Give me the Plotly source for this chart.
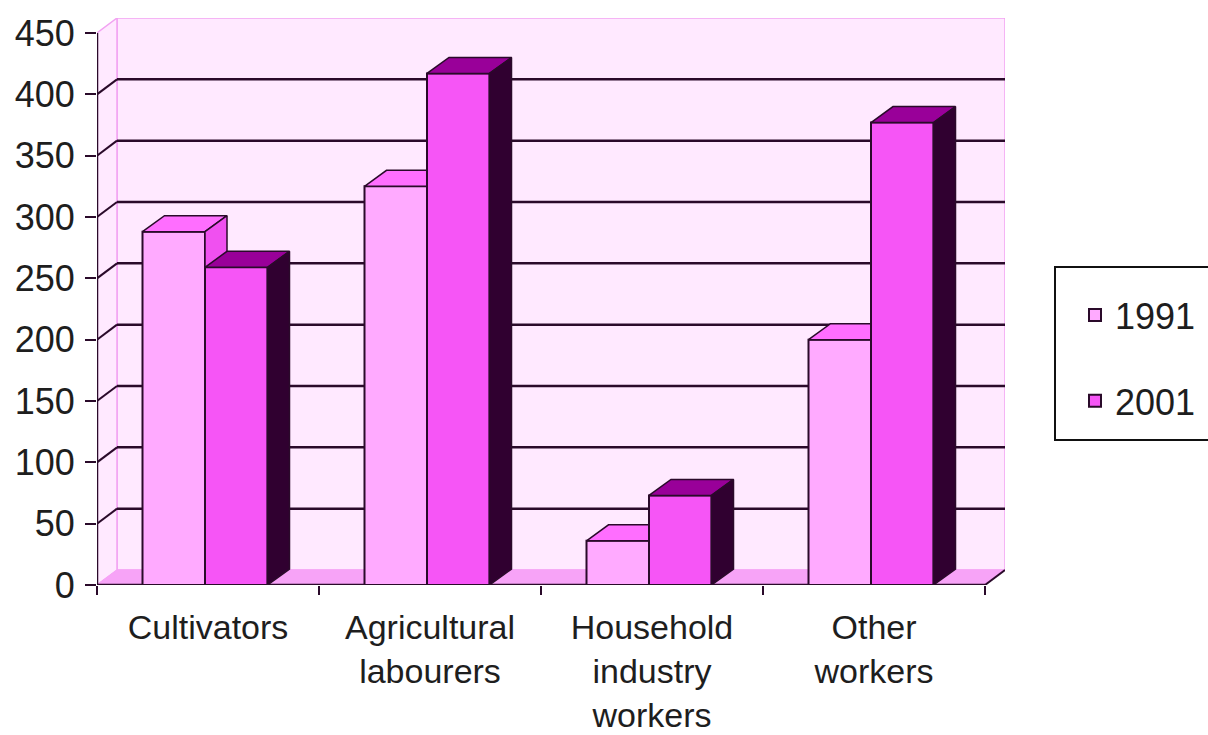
import plotly.graph_objects as go

# ---------------- data ----------------
categories = ["Cultivators", "Agricultural<br>labourers", "Household<br>industry<br>workers", "Other<br>workers"]
series_names = ["1991", "2001"]
values_1991 = [288, 325, 36, 200]
values_2001 = [259, 417, 73, 377]
y_tick_values = [0, 50, 100, 150, 200, 250, 300, 350, 400, 450]

# ---------------- geometry / style ----------------
W, H = 1208, 735
ML, MR, MT, MB = 97, 203, 18, 150
n_cat = len(categories)
X0, X1 = -0.5, n_cat - 0.5
px_per_x = 222.0
px_per_y = 552.0 / 450.0
x_range = [X0, X0 + (W - ML - MR) / px_per_x]
y_range = [0, (H - MT - MB) / px_per_y]

wall_dx, wall_dy = 20 / px_per_x, 15 / px_per_y
bar_dx, bar_dy = 22 / px_per_x, 16 / px_per_y
bar_w = 62.5 / px_per_x
offsets = [-65.5 / px_per_x, -3.0 / px_per_x]

edge = "#2A0A2A"
wall_fill = "#FFE9FF"
wall_edge = "#F2A2F2"
floor_fill = "#F7A3F7"
front_cols = ["#FFAAFF", "#F655F6"]
top_cols = ["#FF6EFF", "#990099"]
side_cols = ["#F050F0", "#300030"]
text_col = "#1E1E1E"
FONT = "Liberation Sans, Arial, sans-serif"
FS = 36
FS_X = 34

fig = go.Figure()

series = [values_1991, values_2001]
yaxes = ["y", "y2"]
for k, vals in enumerate(series):
    ya = yaxes[k]
    fig.add_trace(go.Bar(
        x=list(range(n_cat)), y=vals, width=bar_w, offset=offsets[k],
        name=series_names[k], legendgroup=series_names[k],
        marker=dict(color=front_cols[k], line=dict(color=edge, width=2)),
        xaxis="x", yaxis=ya, hoverinfo="x+y+name",
    ))
    for i, v in enumerate(vals):
        xl = i + offsets[k]
        xr = xl + bar_w
        # top face
        fig.add_trace(go.Scatter(
            x=[xl, xr, xr + bar_dx, xl + bar_dx, xl],
            y=[v, v, v + bar_dy, v + bar_dy, v],
            mode="lines", fill="toself", fillcolor=top_cols[k],
            line=dict(color=edge, width=1.5), showlegend=False,
            hoverinfo="skip", xaxis="x", yaxis=ya))
        # side face
        fig.add_trace(go.Scatter(
            x=[xr, xr + bar_dx, xr + bar_dx, xr, xr],
            y=[0, bar_dy, v + bar_dy, v, 0],
            mode="lines", fill="toself", fillcolor=side_cols[k],
            line=dict(color=edge, width=1.5), showlegend=False,
            hoverinfo="skip", xaxis="x", yaxis=ya))

# ---------------- walls, floor, grid (shapes below traces) ----------------
shapes = []
bx0, bx1 = X0 + wall_dx, X1 + wall_dx
top_v = y_tick_values[-1]
shapes.append(dict(type="rect", xref="x", yref="y", x0=bx0, x1=bx1,
                   y0=wall_dy, y1=top_v + wall_dy, fillcolor=wall_fill,
                   line=dict(color=wall_edge, width=1.5), layer="below"))
shapes.append(dict(type="path", xref="x", yref="y",
                   path=f"M{X0},0 L{X0},{top_v} L{bx0},{top_v + wall_dy} L{bx0},{wall_dy} Z",
                   fillcolor=wall_fill, line=dict(color=wall_edge, width=1.5), layer="below"))
shapes.append(dict(type="path", xref="x", yref="y",
                   path=f"M{X0},0 L{X1},0 L{bx1},{wall_dy} L{bx0},{wall_dy} Z",
                   fillcolor=floor_fill, line=dict(color=floor_fill, width=1), layer="below"))
for v in y_tick_values[1:-1]:
    shapes.append(dict(type="line", xref="x", yref="y", x0=bx0, x1=bx1,
                       y0=v + wall_dy, y1=v + wall_dy,
                       line=dict(color=edge, width=2.5), layer="below"))
    shapes.append(dict(type="line", xref="x", yref="y", x0=X0, x1=bx0,
                       y0=v, y1=v + wall_dy,
                       line=dict(color=edge, width=2), layer="below"))
# front axes
shapes.append(dict(type="line", xref="x", yref="y", x0=X0, x1=X0, y0=0, y1=top_v,
                   line=dict(color=edge, width=2.5), layer="below"))
shapes.append(dict(type="line", xref="x", yref="y", x0=X0, x1=X1, y0=0, y1=0,
                   line=dict(color=edge, width=2.5), layer="below"))
shapes.append(dict(type="line", xref="x", yref="y", x0=X1, x1=bx1, y0=0, y1=wall_dy,
                   line=dict(color=edge, width=2), layer="below"))

# legend box
pw, ph = W - ML - MR, H - MT - MB
shapes.append(dict(type="rect", xref="paper", yref="paper",
                   x0=(1055 - ML) / pw, x1=(1216 - ML) / pw,
                   y0=(H - MB - 440) / ph, y1=(H - MB - 267) / ph,
                   fillcolor="white", line=dict(color="#111111", width=2), layer="below"))

fig.update_layout(
    width=W, height=H,
    margin=dict(l=ML, r=MR, t=MT, b=MB, pad=0, autoexpand=False),
    paper_bgcolor="white", plot_bgcolor="white",
    barmode="overlay",
    font=dict(family=FONT, size=FS, color=text_col),
    shapes=shapes,
    showlegend=True,
    legend=dict(x=(1075 - ML) / pw, xanchor="left",
                y=(H - MB - 358) / ph, yanchor="middle",
                bgcolor="rgba(0,0,0,0)", borderwidth=0,
                tracegroupgap=36, traceorder="grouped",
                font=dict(family=FONT, size=FS, color=text_col)),
    xaxis=dict(range=x_range, tickmode="array", tickvals=list(range(n_cat)),
               ticktext=categories, ticks="", showgrid=False, zeroline=False,
               showline=False, automargin=False,
               tickfont=dict(family=FONT, size=FS_X, color=text_col),
               ticklabelstandoff=19,
               minor=dict(ticks="outside", tickmode="array",
                          tickvals=[X0 + i for i in range(n_cat + 1)],
                          ticklen=9, tickwidth=2, tickcolor=edge, showgrid=False)),
    yaxis=dict(range=y_range, tickmode="array", tickvals=y_tick_values,
               ticks="outside", ticklen=11, tickwidth=2, tickcolor=edge,
               showgrid=False, zeroline=False, showline=False, automargin=False,
               ticklabelstandoff=3,
               tickfont=dict(family=FONT, size=FS, color=text_col)),
    yaxis2=dict(range=y_range, overlaying="y", visible=False, showgrid=False,
                zeroline=False, automargin=False),
)

fig.write_html("out.html")
